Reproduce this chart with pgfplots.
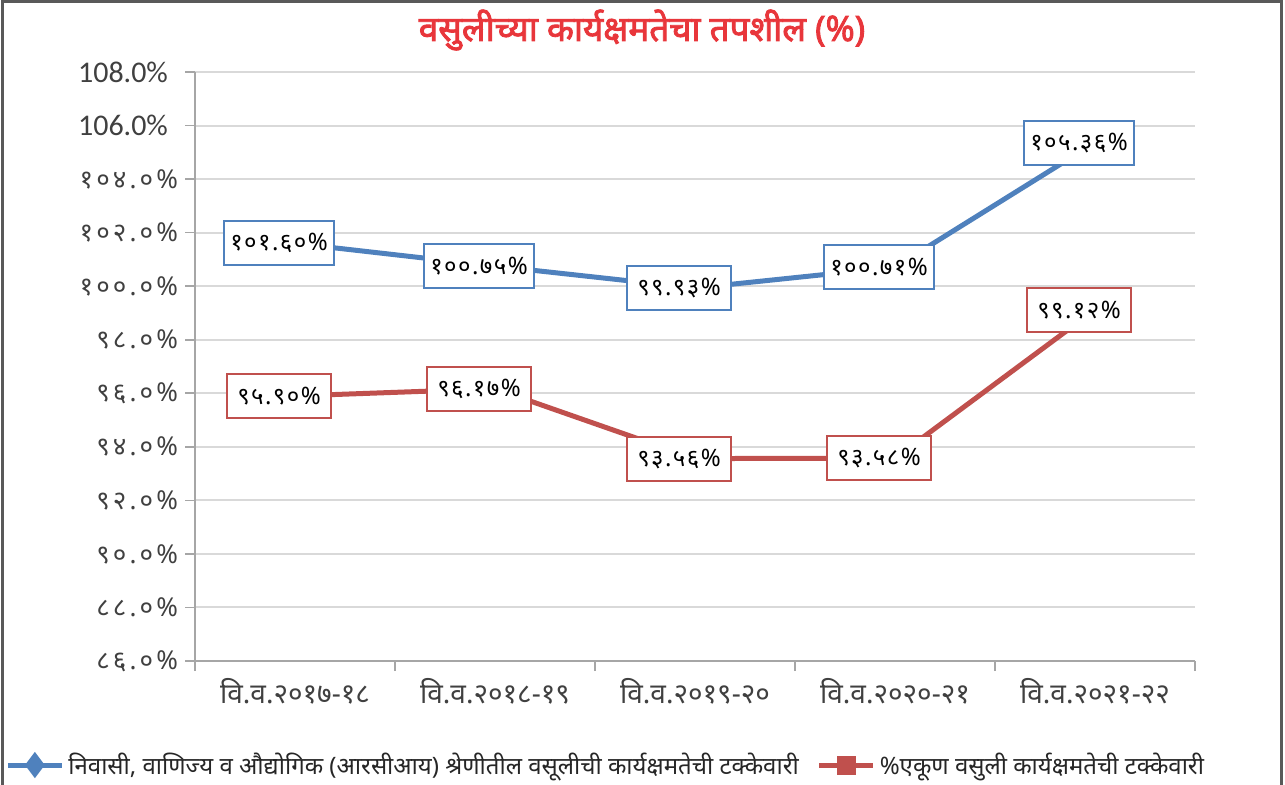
\documentclass[border=0pt]{standalone}
\usepackage{fontspec}
\usepackage{pgfplots}
\pgfplotsset{compat=1.18}
\setmainfont{Carlito}
\newfontfamily\dev[Script=Devanagari]{Noto Sans}
\newfontfamily\devbold[Script=Devanagari, FakeBold=2.5]{Noto Sans}
\newfontfamily\devsp[Script=Devanagari, LetterSpace=12]{Noto Sans}
\newfontfamily\devlab[Script=Devanagari, LetterSpace=6]{Noto Sans}
\definecolor{serblue}{HTML}{4F81BD}
\definecolor{serred}{HTML}{C0504D}
\definecolor{titlered}{HTML}{E8363B}
\definecolor{gridgray}{HTML}{D9D9D9}
\definecolor{axisgray}{HTML}{A6A6A6}
\definecolor{txt}{HTML}{404040}

\begin{document}
\begin{tikzpicture}
\useasboundingbox (0,0) rectangle (642.5pt,392pt);
% frame of the chart area
\draw[gray!70!black, line width=1.5pt] (1pt,-10pt) -- (1pt,391pt) -- (640.5pt,391pt) -- (640.5pt,-10pt);
\node[font=\devbold\fontsize{17.5}{20}\selectfont, text=titlered] at (321pt,377pt)
  {वसुलीच्या कार्यक्षमतेचा तपशील (\%)};
\begin{axis}[
  at={(97.5pt,61.5pt)}, anchor=south west,
  scale only axis, width=500pt, height=294.5pt,
  xmin=-0.5, xmax=4.5, ymin=86, ymax=108,
  axis x line*=bottom, axis y line*=left,
  axis line style={axisgray, line width=1pt},
  tick style={axisgray, line width=0.8pt},
  major tick length=5pt, tick align=outside,
  xtick={-0.5,0.5,1.5,2.5,3.5,4.5},
  xticklabels={वि.व.२०१७-१८, वि.व.२०१८-१९, वि.व.२०१९-२०, वि.व.२०२०-२१, वि.व.२०२१-२२, {}},
  x tick label style={xshift=50pt, font=\dev\fontsize{14}{16}\selectfont, text=txt},
  ytick={86,88,...,108},
  yticklabels={{\devsp ८६.०\%}, {\devsp ८८.०\%}, {\devsp ९०.०\%}, {\devsp ९२.०\%}, {\devsp ९४.०\%},
    {\devsp ९६.०\%}, {\devsp ९८.०\%}, {\devsp १००.०\%}, {\devsp १०२.०\%}, {\devsp १०४.०\%},
    {\fontsize{15}{18}\selectfont 106.0\%\kern5pt}, {\fontsize{15}{18}\selectfont 108.0\%\kern5pt}},
  y tick label style={font=\fontsize{13}{15}\selectfont, text=txt},
  ymajorgrids, grid style={gridgray, line width=1pt},
  legend image code/.code={\draw[mark repeat=2,mark phase=2,#1] plot coordinates {(0pt,0pt) (13.5pt,0pt) (27pt,0pt)};},
  legend style={at={(-0.19,-0.1766)}, anchor=west, draw=none, fill=none, inner sep=0pt,
    font=\dev\fontsize{12}{14}\selectfont, text=black!85,
    /tikz/every even column/.append style={column sep=7pt}},
  legend columns=2, legend cell align=left,
  clip=false,
]
\addlegendimage{serblue, line width=2.5pt, mark=diamond*, mark size=4.5pt}
\addlegendentry{निवासी, वाणिज्य व औद्योगिक (आरसीआय) श्रेणीतील वसूलीची कार्यक्षमतेची टक्केवारी}
\addlegendimage{serred, line width=2.5pt, mark=square*, mark size=3.5pt}
\addlegendentry{\%एकूण वसुली कार्यक्षमतेची टक्केवारी}

% RCI category
\addplot[serblue, line width=2.5pt, mark=none, forget plot,
  nodes near coords, point meta=explicit symbolic,
  every node near coord/.append style={draw=serblue, fill=white, line width=1pt, anchor=center,
    font=\devlab\fontsize{12}{14}\selectfont, text=black, inner xsep=3pt, minimum height=22pt, minimum width=52pt, xshift=-8pt}]
  coordinates {(0,101.60)[१०१.६०\%] (1,100.75)[१००.७५\%] (2,99.93)[९९.९३\%] (3,100.71)[१००.७१\%] (4,105.36)[१०५.३६\%]};

% total collection
\addplot[serred, line width=2.5pt, mark=none, forget plot,
  nodes near coords, point meta=explicit symbolic,
  every node near coord/.append style={draw=serred, fill=white, line width=1pt, anchor=center,
    font=\devlab\fontsize{12}{14}\selectfont, text=black, inner xsep=3pt, minimum height=22pt, minimum width=52pt, xshift=-8pt}]
  coordinates {(0,95.90)[९५.९०\%] (1,96.17)[९६.१७\%] (2,93.56)[९३.५६\%] (3,93.58)[९३.५८\%] (4,99.12)[९९.१२\%]};
\end{axis}
\end{tikzpicture}
\end{document}
